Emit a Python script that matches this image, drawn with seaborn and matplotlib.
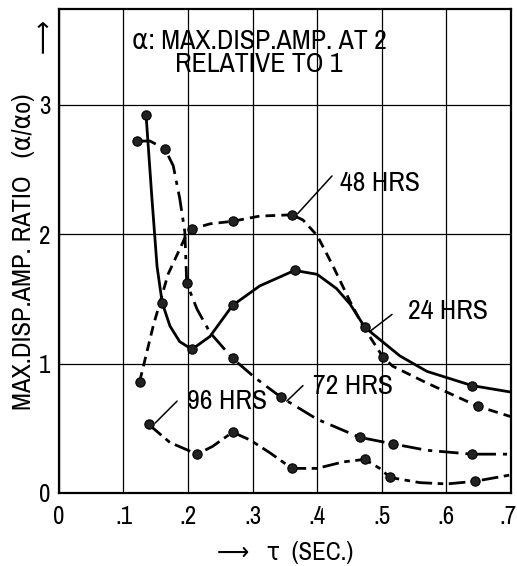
import matplotlib
matplotlib.use("Agg")
import matplotlib.pyplot as plt
from matplotlib import font_manager, transforms
import pandas as pd
import seaborn as sns

# curves (tau in sec, amplitude ratio)
x24 = [0.135, 0.144, 0.152, 0.160, 0.172, 0.187, 0.206, 0.234, 0.269, 0.311,
       0.365, 0.400, 0.430, 0.451, 0.474, 0.528, 0.570, 0.640, 0.700]
y24 = [2.92, 2.28, 1.75, 1.47, 1.29, 1.17, 1.11, 1.21, 1.45, 1.60,
       1.72, 1.69, 1.58, 1.46, 1.28, 1.06, 0.94, 0.83, 0.78]
x48 = [0.125, 0.146, 0.169, 0.195, 0.206, 0.234, 0.269, 0.311, 0.361, 0.378,
       0.400, 0.424, 0.451, 0.471, 0.502, 0.517, 0.570, 0.649, 0.700]
y48 = [0.86, 1.29, 1.69, 1.97, 2.04, 2.08, 2.10, 2.14, 2.15, 2.11,
       1.99, 1.76, 1.48, 1.29, 1.05, 0.98, 0.85, 0.67, 0.59]
x72 = [0.121, 0.141, 0.164, 0.177, 0.187, 0.195, 0.198, 0.214, 0.234, 0.269,
       0.304, 0.344, 0.400, 0.466, 0.517, 0.570, 0.640, 0.700]
y72 = [2.72, 2.72, 2.66, 2.53, 2.28, 2.02, 1.62, 1.42, 1.24, 1.04,
       0.89, 0.74, 0.57, 0.43, 0.38, 0.33, 0.30, 0.30]
x96 = [0.139, 0.172, 0.214, 0.238, 0.269, 0.296, 0.327, 0.361, 0.400, 0.440,
       0.474, 0.497, 0.513, 0.559, 0.601, 0.644, 0.700]
y96 = [0.53, 0.39, 0.30, 0.36, 0.47, 0.41, 0.31, 0.19, 0.19, 0.24,
       0.26, 0.19, 0.12, 0.08, 0.07, 0.09, 0.14]

# measured points (dots)
px24 = [0.135, 0.160, 0.206, 0.269, 0.365, 0.474, 0.640]
py24 = [2.92, 1.47, 1.11, 1.45, 1.72, 1.28, 0.83]
px48 = [0.125, 0.206, 0.269, 0.361, 0.502, 0.649]
py48 = [0.86, 2.04, 2.10, 2.15, 1.05, 0.67]
px72 = [0.121, 0.164, 0.198, 0.269, 0.344, 0.466, 0.517, 0.640]
py72 = [2.72, 2.66, 1.62, 1.04, 0.74, 0.43, 0.38, 0.30]
px96 = [0.139, 0.214, 0.269, 0.361, 0.474, 0.513, 0.644]
py96 = [0.53, 0.30, 0.47, 0.19, 0.26, 0.12, 0.09]

series = ["24 HRS", "48 HRS", "72 HRS", "96 HRS"]
xticks = [0, 0.1, 0.2, 0.3, 0.4, 0.5, 0.6, 0.7]
xticklabels = ["0", ".1", ".2", ".3", ".4", ".5", ".6", ".7"]
yticks = [0, 1, 2, 3]

curves = pd.concat([
    pd.DataFrame({"tau": x, "ratio": y, "series": s})
    for x, y, s in zip([x24, x48, x72, x96], [y24, y48, y72, y96], series)
])
points = pd.concat([
    pd.DataFrame({"tau": x, "ratio": y, "series": s})
    for x, y, s in zip([px24, px48, px72, px96], [py24, py48, py72, py96], series)
])

sns.set_style("white")

# look for a narrow face to imitate the hand lettering
fam, stretch = "DejaVu Sans", "normal"
narrow = [f for f in font_manager.fontManager.ttflist
          if f.style == "normal" and f.weight in (300, 400, "normal")
          and ("Narrow" in f.name or "Condensed" in f.name
               or f.stretch in ("condensed", "semi-condensed", "extra-condensed"))]
if narrow:
    narrow.sort(key=lambda f: (f.weight != 400, f.name))
    fam, stretch = narrow[0].name, narrow[0].stretch
plt.rcParams["font.family"] = [fam, "DejaVu Sans"]
plt.rcParams["font.stretch"] = stretch
plt.rcParams["text.color"] = "black"
plt.rcParams["xtick.color"] = "black"
plt.rcParams["ytick.color"] = "black"

fig = plt.figure(figsize=(5.17, 5.66), dpi=100)
ax = fig.add_axes([0.114, 0.129, 0.874, 0.855])

dashes = {"24 HRS": "", "48 HRS": (3.5, 2.2), "72 HRS": (7, 2.5, 1.5, 2.5),
          "96 HRS": (6, 2, 2, 2)}
sns.lineplot(data=curves, x="tau", y="ratio", hue="series", style="series",
             dashes=dashes, palette=["black"] * 4, sort=False, estimator=None,
             linewidth=2.0, legend=False, ax=ax)
sns.scatterplot(data=points, x="tau", y="ratio", color="#222222", s=45,
                edgecolor="black", linewidth=0.8, legend=False, ax=ax, zorder=5)

ax.set_xlim(0, 0.7)
ax.set_ylim(0, 3.74)
ax.set_xticks(xticks)
ax.set_xticklabels(xticklabels)
ax.set_yticks(yticks)
ax.tick_params(length=0, labelsize=18)
ax.tick_params(axis="x", pad=9)
ax.tick_params(axis="y", pad=6)
last = ax.get_xticklabels()[-1]
last.set_transform(last.get_transform()
                   + transforms.ScaledTranslation(-0.03, 0, fig.dpi_scale_trans))
ax.grid(True, color="black", linewidth=0.9)
for sp in ax.spines.values():
    sp.set_color("black")
    sp.set_linewidth(1.6)
ax.set_xlabel("")
ax.set_ylabel("")

# series labels with leader lines
labels = [("48 HRS", (0.370, 2.16), (0.423, 2.45), (0.435, 2.39)),
          ("24 HRS", (0.482, 1.25), (0.516, 1.38), (0.540, 1.40)),
          ("72 HRS", (0.353, 0.71), (0.378, 0.83), (0.393, 0.82)),
          ("96 HRS", (0.149, 0.54), (0.183, 0.71), (0.198, 0.71))]
for txt, p0, p1, pt in labels:
    ax.plot([p0[0], p1[0]], [p0[1], p1[1]], color="black", linewidth=1.1)
    ax.text(pt[0], pt[1], txt, fontsize=20, va="center", ha="left")

ax.text(0.31, 3.40, "α: MAX.DISP.AMP. AT 2\nRELATIVE TO 1", fontsize=20,
        ha="center", va="center", linespacing=0.88)

fig.text(0.046, 0.556, "MAX.DISP.AMP. RATIO   (α/αo)", rotation=90,
         fontsize=19, ha="center", va="center")
fig.text(0.085, 0.937, "⟶", rotation=90, fontsize=19, ha="center", va="center")
fig.text(0.552, 0.024, "⟶   τ  (SEC.)", fontsize=18, ha="center", va="center")

fig.savefig("out.png", dpi=100)
